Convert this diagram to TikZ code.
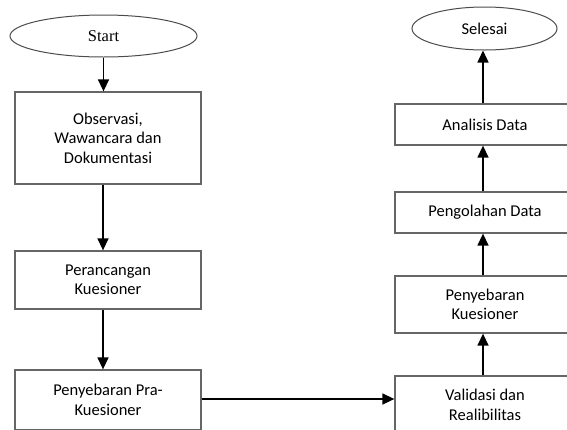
\documentclass[tikz,border=0pt]{standalone}
\usepackage{fontspec}
\setmainfont{Carlito}
\newfontfamily\startfont{Liberation Serif}
\usetikzlibrary{arrows.meta,shapes.geometric}
\begin{document}
\begin{tikzpicture}[x=1pt,y=-1pt,
  box/.style={draw=black!60,line width=1.3pt,rectangle,align=center,inner sep=0pt,
    font=\fontsize{16.5}{19.5}\selectfont,text=black},
  term/.style={draw=black!70,line width=1pt,ellipse,inner sep=0pt},
  conn/.style={line width=1.4pt,-{Triangle[length=12pt,width=11pt]}}]
\useasboundingbox (0,0) rectangle (567,429);
\clip (0,0) rectangle (567,429);
\fill[white] (0,0) rectangle (567,429);
% left column
\node[term,minimum width=187pt,minimum height=42pt,font=\startfont\fontsize{16.5}{19}\selectfont] (start) at (103.5,36) {Start};
\node[box,minimum width=186pt,minimum height=92pt] (obs) at (108,138) {Observasi,\\Wawancara dan\\Dokumentasi};
\node[box,minimum width=186pt,minimum height=58pt] (rancang) at (108,280) {Perancangan\\Kuesioner};
\node[box,minimum width=186pt,minimum height=60pt] (pra) at (108,400) {Penyebaran Pra-\\Kuesioner};
% right column
\node[term,minimum width=145pt,minimum height=43pt,font=\fontsize{16.5}{19}\selectfont] (selesai) at (484.5,28.5) {Selesai};
\node[box,minimum width=180pt,minimum height=41pt] (analisis) at (485,124.5) {Analisis Data};
\node[box,minimum width=180pt,minimum height=41pt] (olah) at (485,212.5) {Pengolahan Data};
\node[box,minimum width=180pt,minimum height=57pt] (sebar) at (485,304.5) {Penyebaran\\Kuesioner};
\node[box,minimum width=180pt,minimum height=58pt] (valid) at (485,405) {Validasi dan\\Realibilitas};
% connectors
\draw[conn] (start.south) -- (start.south |- obs.north);
\draw[conn] ([xshift=-5pt]obs.south) -- ([xshift=-5pt]rancang.north);
\draw[conn] ([xshift=-5pt]rancang.south) -- ([xshift=-5pt]pra.north);
\draw[conn] ([yshift=1pt]pra.east) -- ([yshift=1pt]pra.east -| valid.west);
\draw[conn] ([xshift=-2pt]valid.north) -- ([xshift=-2pt]sebar.south);
\draw[conn] ([xshift=-2pt]sebar.north) -- ([xshift=-2pt]olah.south);
\draw[conn] ([xshift=-2pt]olah.north) -- ([xshift=-2pt]analisis.south);
\draw[conn] ([xshift=-2pt]analisis.north) -- ([xshift=-2pt]analisis.north |- selesai.south);
\end{tikzpicture}
\end{document}
